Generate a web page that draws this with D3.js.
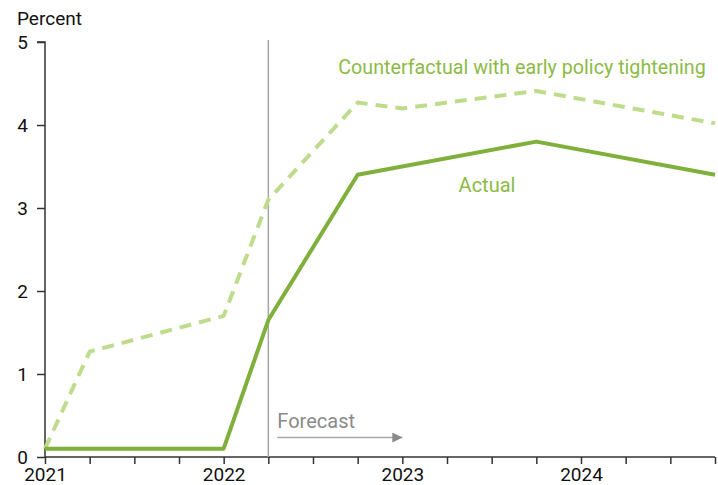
<!DOCTYPE html>
<html><head><meta charset="utf-8">
<script src="https://cdn.jsdelivr.net/npm/d3@7"></script>
<style>body{margin:0;background:#fff}svg{display:block;font-family:Roboto,"Noto Sans",sans-serif}</style>
</head><body><svg id="c" width="718" height="485"></svg>
<script>
const actualX = [2021, 2022, 2022.25, 2022.75, 2023.75, 2024.75];
const actualY = [0.1, 0.1, 1.65, 3.4, 3.8, 3.4];
const cfX = [2021, 2021.25, 2022, 2022.25, 2022.75, 2023, 2023.75, 2024.75];
const cfY = [0.1, 1.27, 1.7, 3.1, 4.27, 4.2, 4.41, 4.02];
const yTicks = [0, 1, 2, 3, 4, 5];
const xMajor = [2021, 2022, 2023, 2024];
const xQuarters = d3.range(2021, 2024.76, 0.25);
const forecastStart = 2022.25;

const svg = d3.select("#c");
const x = d3.scaleLinear().domain([2021, 2024.75]).range([45, 715]);
const y = d3.scaleLinear().domain([0, 5]).range([457, 42]);

// y axis
const ya = svg.append("g").attr("transform", "translate(45,0)")
  .call(d3.axisLeft(y).tickValues(yTicks).tickFormat(d3.format("d")).tickSize(8).tickPadding(9));
ya.select(".domain").attr("stroke", "#333").attr("stroke-width", 1.5).attr("d", "M-8,42H0V457");
ya.selectAll("line").attr("stroke", "#333").attr("stroke-width", 1.5);
ya.selectAll("text").attr("font-size", 19).attr("fill", "#111").attr("font-family", "Roboto");

// x axis
const xa = svg.append("g").attr("transform", "translate(0,457)")
  .call(d3.axisBottom(x).tickValues(xQuarters).tickSize(7).tickFormat(d => xMajor.includes(d) ? d3.format("d")(d) : "").tickPadding(6));
xa.select(".domain").attr("stroke", "#333").attr("stroke-width", 1.5).attr("d", "M45,0H715");
xa.selectAll("line").attr("stroke", "#333").attr("stroke-width", 1.5);
xa.selectAll("text").attr("font-size", 19).attr("fill", "#111").attr("font-family", "Roboto").attr("dy", "0.6em");

svg.append("text").attr("x", 17).attr("y", 25).attr("font-size", 19).attr("fill", "#111").text("Percent");

// forecast line
svg.append("line").attr("x1", x(forecastStart)).attr("x2", x(forecastStart)).attr("y1", 40).attr("y2", 457)
  .attr("stroke", "#a6a6a6").attr("stroke-width", 1.5);
svg.append("text").attr("x", x(forecastStart) + 9).attr("y", 428).attr("font-size", 20).attr("fill", "#8a8a8a").text("Forecast");
svg.append("defs").append("marker").attr("id", "ah").attr("viewBox", "0 0 10 10").attr("refX", 10).attr("refY", 5)
  .attr("markerWidth", 10).attr("markerHeight", 10).attr("markerUnits", "userSpaceOnUse").attr("orient", "auto")
  .append("path").attr("d", "M0,0L10,5L0,10Z").attr("fill", "#8a8a8a");
svg.append("line").attr("x1", x(forecastStart) + 9).attr("x2", x(2023)).attr("y1", 437.5).attr("y2", 437.5)
  .attr("stroke", "#a6a6a6").attr("stroke-width", 1.5).attr("marker-end", "url(#ah)");

const line = d3.line().x(d => x(d[0])).y(d => y(d[1]));
svg.append("path").datum(cfX.map((d, i) => [d, cfY[i]])).attr("d", line)
  .attr("fill", "none").attr("stroke", "#bedc8c").attr("stroke-width", 4).attr("stroke-dasharray", "12,8").attr("stroke-linejoin", "round");
svg.append("path").datum(actualX.map((d, i) => [d, actualY[i]])).attr("d", line)
  .attr("fill", "none").attr("stroke", "#80b03c").attr("stroke-width", 4).attr("stroke-linejoin", "round");

svg.append("text").attr("x", 522).attr("y", 74).attr("text-anchor", "middle").attr("font-size", 19.7).attr("fill", "#8cbb45")
  .text("Counterfactual with early policy tightening");
svg.append("text").attr("x", 487).attr("y", 192).attr("text-anchor", "middle").attr("font-size", 20).attr("fill", "#8cbb45")
  .text("Actual");
</script></body></html>
